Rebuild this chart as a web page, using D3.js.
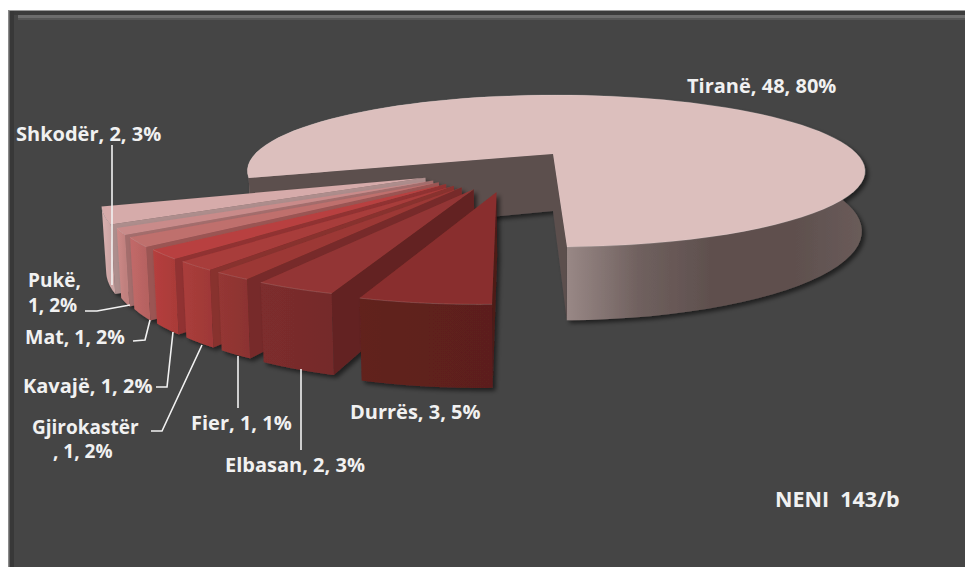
<!DOCTYPE html>
<html><head><meta charset="utf-8">
<script src="https://cdn.jsdelivr.net/npm/d3@7"></script>
<style>html,body{margin:0;padding:0;background:#fff}svg{display:block}
text{font-family:"Open Sans",sans-serif;font-weight:700;fill:#f1f1f1;font-size:20px}</style>
</head><body><div id="c"></div>
<script>
const categories=["Tiranë","Durrës","Elbasan","Fier","Gjirokastër","Kavajë","Mat","Pukë","Shkodër"];
const counts=[48,3,2,1,1,1,1,1,2];
const percents=[80,5,3,1,2,2,2,2,3];
const shares=[80,5.2,3.3,1.6,1.8,1.8,1.8,1.3,3.3];
const topColors=["#dcbfbd","#892f2d","#933634","#9c3836","#a83c3a","#b8403f","#bf6f6d","#c98b8a","#d6abaa"];
const wallColors=["#5c4f4e","#5f201e","#792c2c","#913533","#a53b39","#b03d3b","#bd6665","#c78583","#d3abaa"];
const chartTitle="NENI  143/b";

const W=965,H=567;
const svg=d3.select("#c").append("svg").attr("width",W).attr("height",H);
const defs=svg.append("defs");
const sh=defs.append("filter").attr("id","sh").attr("x","-10%").attr("y","-10%").attr("width","120%").attr("height","125%");
sh.append("feDropShadow").attr("dx",3).attr("dy",3).attr("stdDeviation",2).attr("flood-color","#000").attr("flood-opacity",.55);

// panel
svg.append("rect").attr("x",8).attr("y",10).attr("width",W-8).attr("height",H-10).attr("fill","#454545");
svg.append("rect").attr("x",9).attr("y",11).attr("width",W-9).attr("height",4).attr("fill","#3b3b3b");
svg.append("rect").attr("x",18).attr("y",15).attr("width",W-18).attr("height",3).attr("fill","#6c6c6c");
svg.append("rect").attr("x",18).attr("y",18).attr("width",W-18).attr("height",2).attr("fill","#555");
svg.append("rect").attr("x",9).attr("y",11).attr("width",5).attr("height",H-11).attr("fill","#383838");
svg.append("rect").attr("x",8).attr("y",10).attr("width",W-8).attr("height",1).attr("fill","#9a9a9a");
svg.append("rect").attr("x",8).attr("y",10).attr("width",1.5).attr("height",H-10).attr("fill","#8a8a8a");

// projection of the tilted pie plane
const cx=553,cy=154,sx=301,sy=72.2,a=.2236,hz=57;
const proj=(u,v,z)=>{const w=1-a*v;return [cx+sx*u/w*(1-.01*z),cy+sy*v/w+z*hz/w];};
const rad=d=>d*Math.PI/180;
const pt=(ox,oy,r,t,z)=>proj(ox+r*Math.sin(t),oy-r*Math.cos(t),z);
const line=d3.line().curve(d3.curveLinear);

const pie=d3.pie().sort(null).startAngle(rad(252)).endAngle(rad(612));
const arcs=pie(shares);

function slice(i,ox,oy,R,t0off,t1off,ax,ay){
  const t0=arcs[i].startAngle+t0off,t1=arcs[i].endAngle+t1off;
  const ts=d3.range(0,1.0001,1/90).map(f=>t0+(t1-t0)*f);
  return {t0,t1,ts,ox,oy,R,ax:ax===undefined?ox:ax,ay:ay===undefined?oy:ay};
}
function gradient(id,colors,x1,x2){
  const gr=defs.append("linearGradient").attr("id",id).attr("gradientUnits","userSpaceOnUse")
    .attr("x1",x1).attr("x2",x2).attr("y1",0).attr("y2",0);
  colors.forEach((c,k)=>gr.append("stop").attr("offset",k/(colors.length-1)).attr("stop-color",c));
  return `url(#${id})`;
}
function wall(g,s,fill){
  const topE=s.ts.map(t=>pt(s.ox,s.oy,s.R,t,0)),botE=s.ts.map(t=>pt(s.ox,s.oy,s.R,t,1));
  g.append("path").attr("d",line(topE.concat(botE.reverse()))+"Z").attr("fill",fill);
}
function cut(g,s,t,fill){
  const p=[proj(s.ax,s.ay,0),pt(s.ox,s.oy,s.R,t,0),pt(s.ox,s.oy,s.R,t,1),proj(s.ax,s.ay,1)];
  g.append("path").attr("d",line(p)+"Z").attr("fill",fill);
}
function face(g,s,fill){
  const edge=s.ts.map(t=>pt(s.ox,s.oy,s.R,t,0));
  g.append("path").attr("d",line([proj(s.ax,s.ay,0)].concat(edge))+"Z").attr("fill",fill);
  g.append("path").attr("d",line(edge)).attr("fill","none").attr("stroke","#fff").attr("stroke-opacity",.14).attr("stroke-width",1);
}
const root=svg.append("g");

// main slice
{
  const s=slice(0,.01,0,1,0,rad(-1.2),0,0);
  const g=root.append("g").attr("filter","url(#sh)");
  wall(g,s,gradient("gT",["#9a8987","#6f605e","#5e4f4d","#5e4f4d","#6a5c5a"],565,865));
  cut(g,s,s.t0,"#5c4f4e");
  cut(g,s,s.t1,"#5c4f4e");
  face(g,s,topColors[0]);
}
// exploded slices, back to front
const R2=.95,ex=.5,tilt=rad(-1.5);
for(let i=categories.length-1;i>=1;i--){
  const mid=(arcs[i].startAngle+arcs[i].endAngle)/2;
  const phi=rad(199)+(mid-rad(188)-2*Math.PI)*.57;
  const ox=ex*Math.sin(phi),oy=-ex*Math.cos(phi);
  const s=slice(i,ox,oy,R2,tilt,tilt);
  const g=root.append("g").attr("filter","url(#sh)");
  cut(g,s,s.t0,d3.color(wallColors[i]).darker(.55));
  const [xa]=pt(ox,oy,R2,s.t1,0),[xb]=pt(ox,oy,R2,s.t0,0);
  const c=d3.color(wallColors[i]);
  wall(g,s,gradient("g"+i,[c.brighter(.08).formatHex(),c.formatHex(),c.darker(.1).formatHex()],xa,xb));
  face(g,s,topColors[i]);
}

// leader lines
const leaders=[
 [[112,145],[112,285]],
 [[85,311],[97,311],[130,305]],
 [[133,341],[145,340],[150,320]],
 [[156,387],[167,387],[173,332]],
 [[151,431],[162,431],[202,345]],
 [[238,356],[238,408]],
 [[301,369],[301,450]]];
root.selectAll("path.l").data(leaders).join("path").attr("class","l").attr("d",d=>line(d))
  .attr("fill","none").attr("stroke","#f2f2f2").attr("stroke-width",1.6);

// labels (multi-line ones are one text element with tspans)
const lab=i=>`${categories[i]}, ${counts[i]}, ${percents[i]}%`;
const labels=[
 [[[lab(0),687,93]],20],[[[lab(8),16,141]],20],
 [[[categories[7]+",",28,287],[`${counts[7]}, ${percents[7]}%`,28,312]],19],
 [[[lab(6),25,344]],19.5],[[[lab(5),23,393]],20],
 [[[categories[4],32,434],[`, ${counts[4]}, ${percents[4]}%`,53,458]],19],
 [[[lab(3),191,430]],20],[[[lab(2),225,472]],20],[[[lab(1),350,419]],20],
 [[[chartTitle,775,507]],21.5]];
const tx=root.selectAll("text").data(labels).join("text").style("font-size",d=>d[1]+"px").style("white-space","pre");
tx.selectAll("tspan").data(d=>d[0]).join("tspan").attr("x",d=>d[1]).attr("y",d=>d[2]).text(d=>d[0]);
</script></body></html>
